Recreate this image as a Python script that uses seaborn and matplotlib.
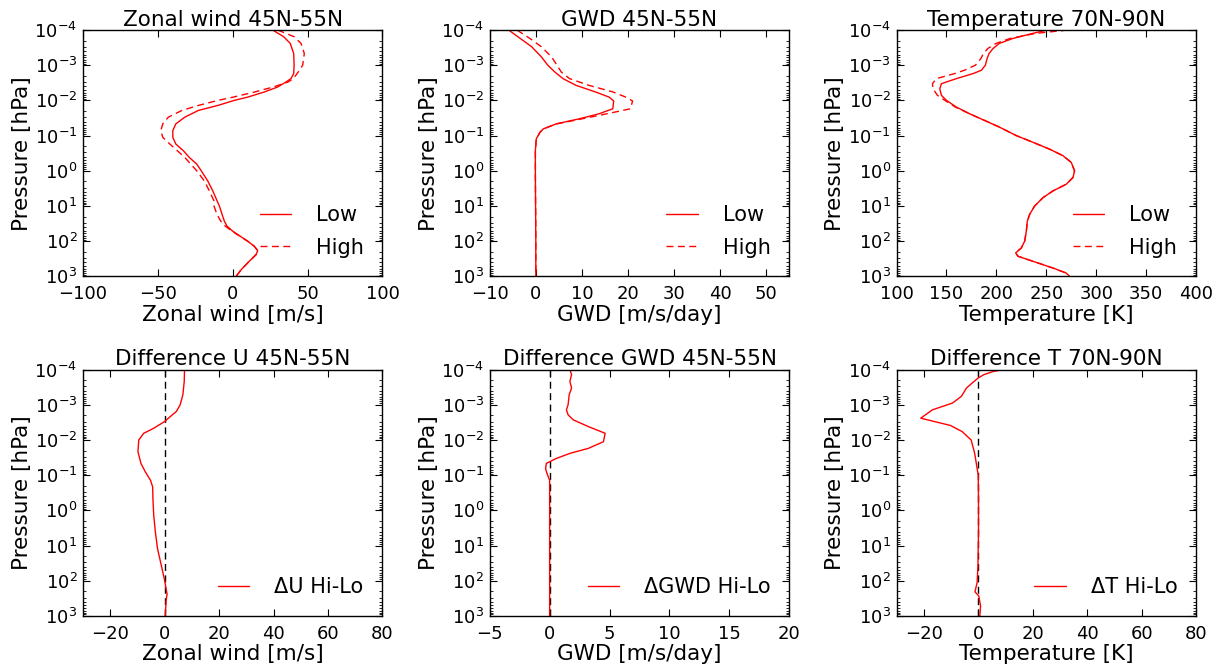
import numpy as np
import pandas as pd
import matplotlib
matplotlib.use('Agg')
import matplotlib.pyplot as plt
from matplotlib.ticker import MultipleLocator
import seaborn as sns

sns.set_style("ticks")
plt.rcParams.update({
    'font.family': ['DejaVu Sans'],
    'text.color': 'black',
    'axes.labelcolor': 'black',
    'xtick.direction': 'in',
    'ytick.direction': 'in',
    'xtick.top': True,
    'ytick.right': True,
    'xtick.major.size': 5,
    'ytick.major.size': 5,
    'ytick.minor.size': 2.5,
    'axes.edgecolor': 'black',
    'axes.linewidth': 1.0,
    'xtick.color': 'black',
    'ytick.color': 'black',
    'lines.dashed_pattern': [5, 3.2],
})

# ---- zonal wind 45N-55N [m/s] ----
p_u = [1.0e-4, 1.55e-4, 2.40e-4, 4.64e-4, 1.0e-3, 1.73e-3, 2.40e-3, 2.99e-3, 4.16e-3,
       5.78e-3, 8.04e-3, 1.0e-2, 1.39e-2, 1.93e-2, 2.99e-2, 4.64e-2, 7.19e-2, 0.112,
       0.173, 0.268, 0.416, 0.646, 1.0, 1.93, 3.72, 7.19, 10, 17.3, 26.8, 37.2, 51.8,
       80.4, 100, 139, 185, 240, 372, 646, 1000]
u_low = [26.7, 34, 38.4, 40.7, 41, 40.7, 38.9, 35.6, 30, 21, 10, 1, -10, -23, -32, -38,
         -40, -40, -38, -33, -29, -24, -21, -16.7, -13.3, -10.4, -8.9, -7.1, -5.6, -3.8,
         0, 6.7, 10, 14.4, 16.7, 15.6, 11, 5.6, 2.2]
u_high = [30, 41, 45.6, 47.8, 46.7, 43, 40.5, 37, 27, 14.5, 0.4, -10, -23, -34, -43, -46.7,
          -48, -46.7, -42, -37, -32, -28, -24, -19, -15.6, -12.5, -12.5, -10.5, -8, -5,
          -0.5, 6.5, 10, 14.4, 16.7, 15.6, 11, 5.6, 2.2]

# ---- gravity wave drag 45N-55N [m/s/day] ----
p_g = [1.0e-4, 1.73e-4, 2.99e-4, 5.78e-4, 1.0e-3, 1.55e-3, 2.40e-3, 3.72e-3, 5.78e-3,
       8.04e-3, 1.04e-2, 1.73e-2, 2.40e-2, 3.34e-2, 4.64e-2, 6.46e-2, 8.04e-2, 0.124,
       0.268, 1.24, 10, 100, 1000]
g_low = [-5.9, -3.4, -0.9, 1.2, 2.6, 4.1, 5.9, 8.7, 13, 15.9, 16.9, 16.7, 13.7, 9.4, 4.4,
         1.6, 0.9, 0.1, -0.1, -0.1, -0.05, 0, 0]
g_high = [-4.1, -1.3, 1.2, 3.4, 4.6, 5.5, 7.3, 11.5, 16.8, 19.5, 21, 20.5, 15.4, 10.0, 4.5,
          1.6, 0.9, 0.1, -0.1, -0.1, -0.05, 0, 0]

# ---- temperature 70N-90N [K] ----
p_t = [1.0e-4, 1.24e-4, 1.73e-4, 2.40e-4, 3.34e-4, 4.64e-4, 6.46e-4, 1.0e-3, 1.39e-3,
       1.73e-3, 2.40e-3, 3.34e-3, 4.64e-3, 7.19e-3, 1.0e-2, 1.55e-2, 2.40e-2, 3.72e-2,
       5.78e-2, 0.1, 0.155, 0.240, 0.372, 0.578, 1.0, 1.55, 2.40, 3.72, 5.78, 10, 17.3,
       26.8, 51.8, 100, 155, 215, 268, 372, 578, 803, 1000]
t_low = [251, 236.7, 216.7, 203, 196.7, 192.7, 190.7, 189, 185, 176.7, 160, 145, 143.3,
         145, 150, 160, 173.3, 188.3, 203.3, 220, 236.7, 253, 266.7, 275, 278.3, 276.7,
         270, 256.7, 246.7, 238.3, 233.3, 231, 230, 228.3, 225, 219.3, 221.7, 236.7,
         256.7, 270, 273.3]
t_high = [271.7, 240, 214, 199.7, 191.5, 187, 184.5, 179, 168, 158, 140, 136, 136.5,
          141, 148.5, 159, 173.3, 188.3, 203.3, 220, 236.7, 253, 266.7, 275, 278.3, 276.7,
          270, 256.7, 246.7, 238.3, 233.3, 231, 230, 228.3, 225, 219.3, 221.7, 236.7,
          256.7, 270, 273.3]

# ---- differences Hi-Lo ----
p_du = [1.0e-4, 2.15e-4, 5.18e-4, 1.0e-3, 1.55e-3, 2.15e-3, 2.99e-3, 4.64e-3, 6.46e-3,
        1.0e-2, 2.15e-2, 4.64e-2, 8.04e-2, 0.139, 0.215, 0.464, 1.39, 4.16, 12.4, 37.2,
        89.6, 240, 334, 1000]
du = [7.3, 7.2, 6.7, 5.7, 4.3, 2.1, 0, -4, -7.7, -9.5, -9.8, -8.7, -7.1, -5.2, -4.4, -4.3,
      -4.0, -3.4, -2.6, -1.2, -0.1, 0.9, 0.6, 0.2]

p_dg = [1.0e-4, 1.39e-4, 2.15e-4, 3.34e-4, 5.18e-4, 1.0e-3, 1.39e-3, 1.93e-3, 2.68e-3,
        4.16e-3, 6.46e-3, 1.12e-2, 1.73e-2, 2.40e-2, 3.34e-2, 4.64e-2, 6.46e-2, 8.96e-2,
        0.139, 1, 10, 100, 1000]
dg = [1.69, 1.83, 1.69, 1.83, 1.63, 1.54, 1.4, 1.54, 1.97, 3.23, 4.63, 4.49, 3.23, 1.69,
      0.56, -0.28, -0.34, -0.22, 0, 0, 0, 0, 0]

p_dt = [1.0e-4, 1.12e-4, 1.39e-4, 1.73e-4, 2.40e-4, 3.34e-4, 5.78e-4, 8.96e-4, 1.39e-3,
        2.40e-3, 3.89e-3, 5.78e-3, 1.0e-2, 2.40e-2, 5.18e-2, 0.1, 0.464, 4.16, 37.2, 112,
        206, 268, 518, 1000]
dt = [9.4, 5.7, 2.1, 0, -2.2, -4.3, -6.2, -9.5, -16.8, -21.1, -10.1, -5.9, -2.6, -1.3,
      -0.6, 0, 0.1, 0.1, -0.1, -0.4, -1.2, 0.2, 0.85, 0.6]

top_panels = [
    ('Zonal wind 45N-55N', 'Zonal wind [m/s]', p_u, u_low, u_high, (-100, 100), 50),
    ('GWD 45N-55N', 'GWD [m/s/day]', p_g, g_low, g_high, (-10, 55), 10),
    ('Temperature 70N-90N', 'Temperature [K]', p_t, t_low, t_high, (100, 400), 50),
]
bottom_panels = [
    ('Difference U 45N-55N', 'Zonal wind [m/s]', p_du, du, '\u0394U Hi-Lo', (-30, 80), 20),
    ('Difference GWD 45N-55N', 'GWD [m/s/day]', p_dg, dg, '\u0394GWD Hi-Lo', (-5, 20), 5),
    ('Difference T 70N-90N', 'Temperature [K]', p_dt, dt, '\u0394T Hi-Lo', (-30, 80), 20),
]

fig, axes = plt.subplots(2, 3, figsize=(12.27, 6.70), dpi=100)
fig.subplots_adjust(left=0.0676, right=0.9748, top=0.9552, bottom=0.0806,
                    wspace=0.358, hspace=0.378)

def style_axis(ax, title, xlabel, xlim, step):
    ax.set_yscale('log')
    ax.set_xlim(*xlim)
    ax.xaxis.set_major_locator(MultipleLocator(step))
    ax.set_title(title, fontsize=15.5, pad=3)
    ax.set_xlabel(xlabel, fontsize=15.5, labelpad=1)
    ax.set_ylabel('Pressure [hPa]', fontsize=15.5, labelpad=2)
    ax.tick_params(axis='both', which='both', labelsize=13)
    ax.tick_params(axis='x', pad=6.5)
    ax.tick_params(axis='y', pad=4)
    ax.set_yticks([1e-4, 1e-3, 1e-2, 1e-1, 1e0, 1e1, 1e2, 1e3])
    ax.set_ylim(1e3, 1e-4)

legend_kw = dict(loc='lower right', frameon=False, fontsize=15, handlelength=1.5,
                 handletextpad=1.2, labelspacing=0.6, bbox_to_anchor=(1.0, 0.0))

for ax, (title, xlabel, p, low, high, xlim, step) in zip(axes[0], top_panels):
    sns.lineplot(x=low, y=p, sort=False, estimator=None, color='red', lw=1,
                 label='Low', ax=ax)
    sns.lineplot(x=high, y=p, sort=False, estimator=None, color='red', lw=1,
                 linestyle='--', label='High', ax=ax)
    style_axis(ax, title, xlabel, xlim, step)
    ax.legend(**legend_kw)

for ax, (title, xlabel, p, diff, lab, xlim, step) in zip(axes[1], bottom_panels):
    ax.axvline(0, color='black', ls='--', lw=1)
    sns.lineplot(x=diff, y=p, sort=False, estimator=None, color='red', lw=1,
                 label=lab, ax=ax)
    style_axis(ax, title, xlabel, xlim, step)
    ax.legend(**legend_kw)

fig.savefig('out.png', dpi=100)
